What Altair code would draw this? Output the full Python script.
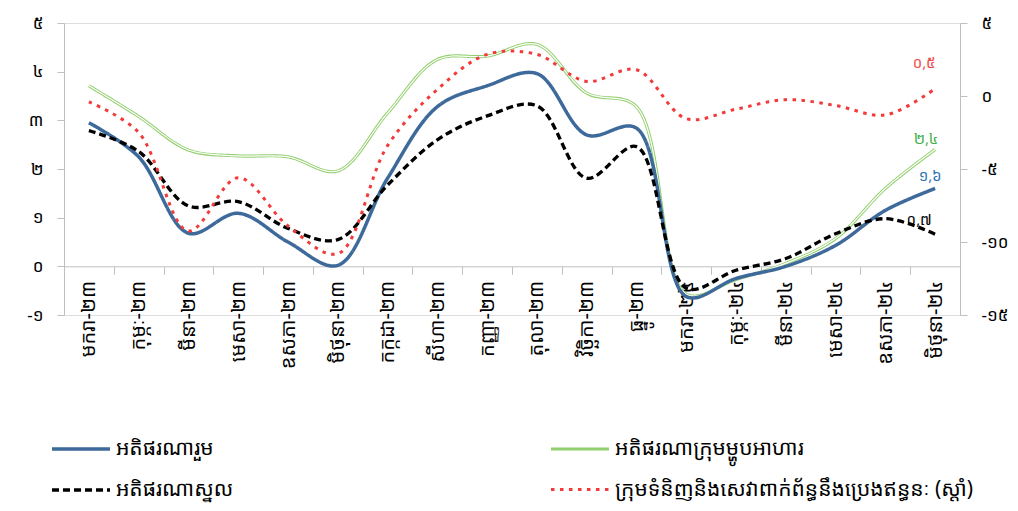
import json
import altair as alt
import pandas as pd

months = ["មករា-២៣", "កុម្ភៈ-២៣", "មីនា-២៣", "មេសា-២៣", "ឧសភា-២៣", "មិថុនា-២៣",
          "កក្កដា-២៣", "សីហា-២៣", "កញ្ញា-២៣", "តុលា-២៣", "វិច្ឆិកា-២៣", "ធ្នូ-២៣",
          "មករា-២៤", "កុម្ភៈ-២៤", "មីនា-២៤", "មេសា-២៤", "ឧសភា-២៤", "មិថុនា-២៤"]

s_overall = "អតិផរណារួម"
s_food = "អតិផរណាក្រុមម្ហូបអាហារ"
s_core = "អតិផរណាស្នូល"
s_energy = "ក្រុមទំនិញនិងសេវាពាក់ព័ន្ធនឹងប្រេងឥន្ធនៈ (ស្តាំ)"
# legend order (laid out column by column): overall, core | food, energy
series_names = [s_overall, s_core, s_food, s_energy]

overall = [2.95, 2.25, 0.68, 1.09, 0.50, 0.02, 1.81, 3.28, 3.71, 3.96, 2.70, 2.84,
           -0.62, -0.25, 0.00, 0.43, 1.15, 1.60]
food = [3.71, 3.08, 2.39, 2.27, 2.25, 1.96, 3.15, 4.25, 4.32, 4.56, 3.56, 3.28,
        -0.57, -0.27, 0.06, 0.57, 1.60, 2.40]
core = [2.79, 2.36, 1.24, 1.33, 0.78, 0.55, 1.67, 2.60, 3.09, 3.30, 1.81, 2.46,
        -0.45, -0.08, 0.16, 0.67, 0.98, 0.66]
energy = [-0.4, -2.5, -9.25, -5.6, -8.9, -10.8, -3.4, 0.45, 2.85, 2.85, 1.0, 1.8,
          -1.55, -0.9, -0.25, -0.65, -1.3, 0.5]

end_labels = {s_overall: "១,៦", s_food: "២,៤", s_core: "០,៧", s_energy: "០,៥"}

left_ticks = [-1, 0, 1, 2, 3, 4, 5]
left_tick_labels = ["-១", "០", "១", "២", "៣", "៤", "៥"]
right_ticks = [-15, -10, -5, 0, 5]
right_tick_labels = ["-១៥", "-១០", "-៥", "០", "៥"]

colors = ["#3E6A9B", "#000000", "#92CF6E", "#F23A3A"]
dashes = [[1, 0], [7, 4], [1, 0], [3.5, 5.5]]
widths = [3.5, 3, 3.5, 3.5]

FONT = "Noto Sans Khmer, Khmer OS System, Khmer OS, Noto Sans, DejaVu Sans"

rows = []
for name, vals in [(s_overall, overall), (s_food, food), (s_core, core), (s_energy, energy)]:
    for m, v in zip(months, vals):
        rows.append({"month": m, "series": name, "value": v})
df = pd.DataFrame(rows)

lab = pd.DataFrame([
    {"month": months[-1], "series": s, "value": v[-1], "text": end_labels[s]}
    for s, v in [(s_overall, overall), (s_food, food), (s_core, core), (s_energy, energy)]
])


def expr_for(ticks, labels):
    return f"{json.dumps(labels, ensure_ascii=False)}[indexof({json.dumps(ticks)}, datum.value)]"


x_enc = alt.X("month:N", sort=months,
              scale=alt.Scale(type="band", domain=months, paddingInner=0, paddingOuter=0),
              axis=alt.Axis(title=None, orient="bottom", offset=-48.7, labelAngle=-90,
                            labelAlign="right", labelBaseline="middle", tickBand="extent",
                            tickSize=8, labelPadding=6, labelFontSize=20, labelColor="#000000",
                            domainColor="#BFBFBF", tickColor="#BFBFBF", grid=False,
                            labelFont=FONT))

y_left = alt.Y("value:Q", scale=alt.Scale(domain=[-1, 5], nice=False, zero=False),
               axis=alt.Axis(title=None, orient="left", values=left_ticks,
                             labelExpr=expr_for(left_ticks, left_tick_labels),
                             tickSize=7, labelPadding=14, labelFontSize=17, labelColor="#000000",
                             domainColor="#BFBFBF", tickColor="#BFBFBF", grid=False,
                             labelFont=FONT))

y_right = alt.Y("value:Q", scale=alt.Scale(domain=[-15, 5], nice=False, zero=False),
                axis=alt.Axis(title=None, orient="right", values=right_ticks,
                              labelExpr=expr_for(right_ticks, right_tick_labels),
                              tickSize=7, labelPadding=14, labelFontSize=17, labelColor="#000000",
                              domainColor="#BFBFBF", tickColor="#BFBFBF", grid=False,
                              labelFont=FONT))

legend = alt.Legend(title=None, orient="none", legendX=-14, legendY=395, columns=2,
                    columnPadding=310, rowPadding=-20, symbolType="stroke", symbolSize=3364,
                    symbolStrokeWidth=4, labelFontSize=21, labelFont=FONT, labelOffset=4,
                    labelColor="#000000", labelLimit=700)

color_enc = alt.Color("series:N", scale=alt.Scale(domain=series_names, range=colors), legend=legend)
dash_enc = alt.StrokeDash("series:N", scale=alt.Scale(domain=series_names, range=dashes), legend=legend)
width_enc = alt.StrokeWidth("series:N", scale=alt.Scale(domain=series_names, range=widths), legend=legend)

base = alt.Chart(df)


def series_line(name, **kw):
    return base.transform_filter(alt.datum.series == name).mark_line(
        interpolate="catmull-rom", **kw)


green = series_line(s_food).encode(x=x_enc, y=y_left, color=color_enc,
                                   strokeDash=dash_enc, strokeWidth=width_enc)
green_inner = series_line(s_food).encode(x=x_enc, y=y_left, color=alt.value("white"),
                                         strokeWidth=alt.value(1.2))
blue = series_line(s_overall).encode(x=x_enc, y=y_left, color=color_enc,
                                     strokeDash=dash_enc, strokeWidth=width_enc)
black = series_line(s_core).encode(x=x_enc, y=y_left, color=color_enc,
                                   strokeDash=dash_enc, strokeWidth=width_enc)

labbase = alt.Chart(lab)
txt_blue = labbase.transform_filter(alt.datum.series == s_overall).mark_text(
    dx=-5, dy=-12, fontSize=15, color="#2E75B6", font=FONT).encode(x=x_enc, y=y_left, text="text:N")
txt_green = labbase.transform_filter(alt.datum.series == s_food).mark_text(
    dx=-9, dy=-11, fontSize=15, color="#3DB04B", font=FONT).encode(x=x_enc, y=y_left, text="text:N")
txt_black = labbase.transform_filter(alt.datum.series == s_core).mark_text(
    dx=-16, dy=-14, fontSize=15, color="#000000", font=FONT).encode(x=x_enc, y=y_left, text="text:N")

left = alt.layer(green, green_inner, blue, black, txt_blue, txt_green, txt_black)

red = series_line(s_energy).encode(x=x_enc, y=y_right, color=color_enc,
                                   strokeDash=dash_enc, strokeWidth=width_enc)
txt_red = labbase.transform_filter(alt.datum.series == s_energy).mark_text(
    dx=-11, dy=-26, fontSize=15, color="#F24A4A", font=FONT).encode(x=x_enc, y=y_right, text="text:N")

right = alt.layer(red, txt_red)

chart = alt.layer(left, right).resolve_scale(y="independent").properties(
    width=896, height=292,
    autosize=alt.AutoSizeParams(type="none"),
    padding={"left": 56, "top": 15, "right": 50, "bottom": 188},
).configure_view(stroke=None).configure(font=FONT, background="white")

chart.save("out.html", embed_options={"renderer": "svg", "actions": False})
